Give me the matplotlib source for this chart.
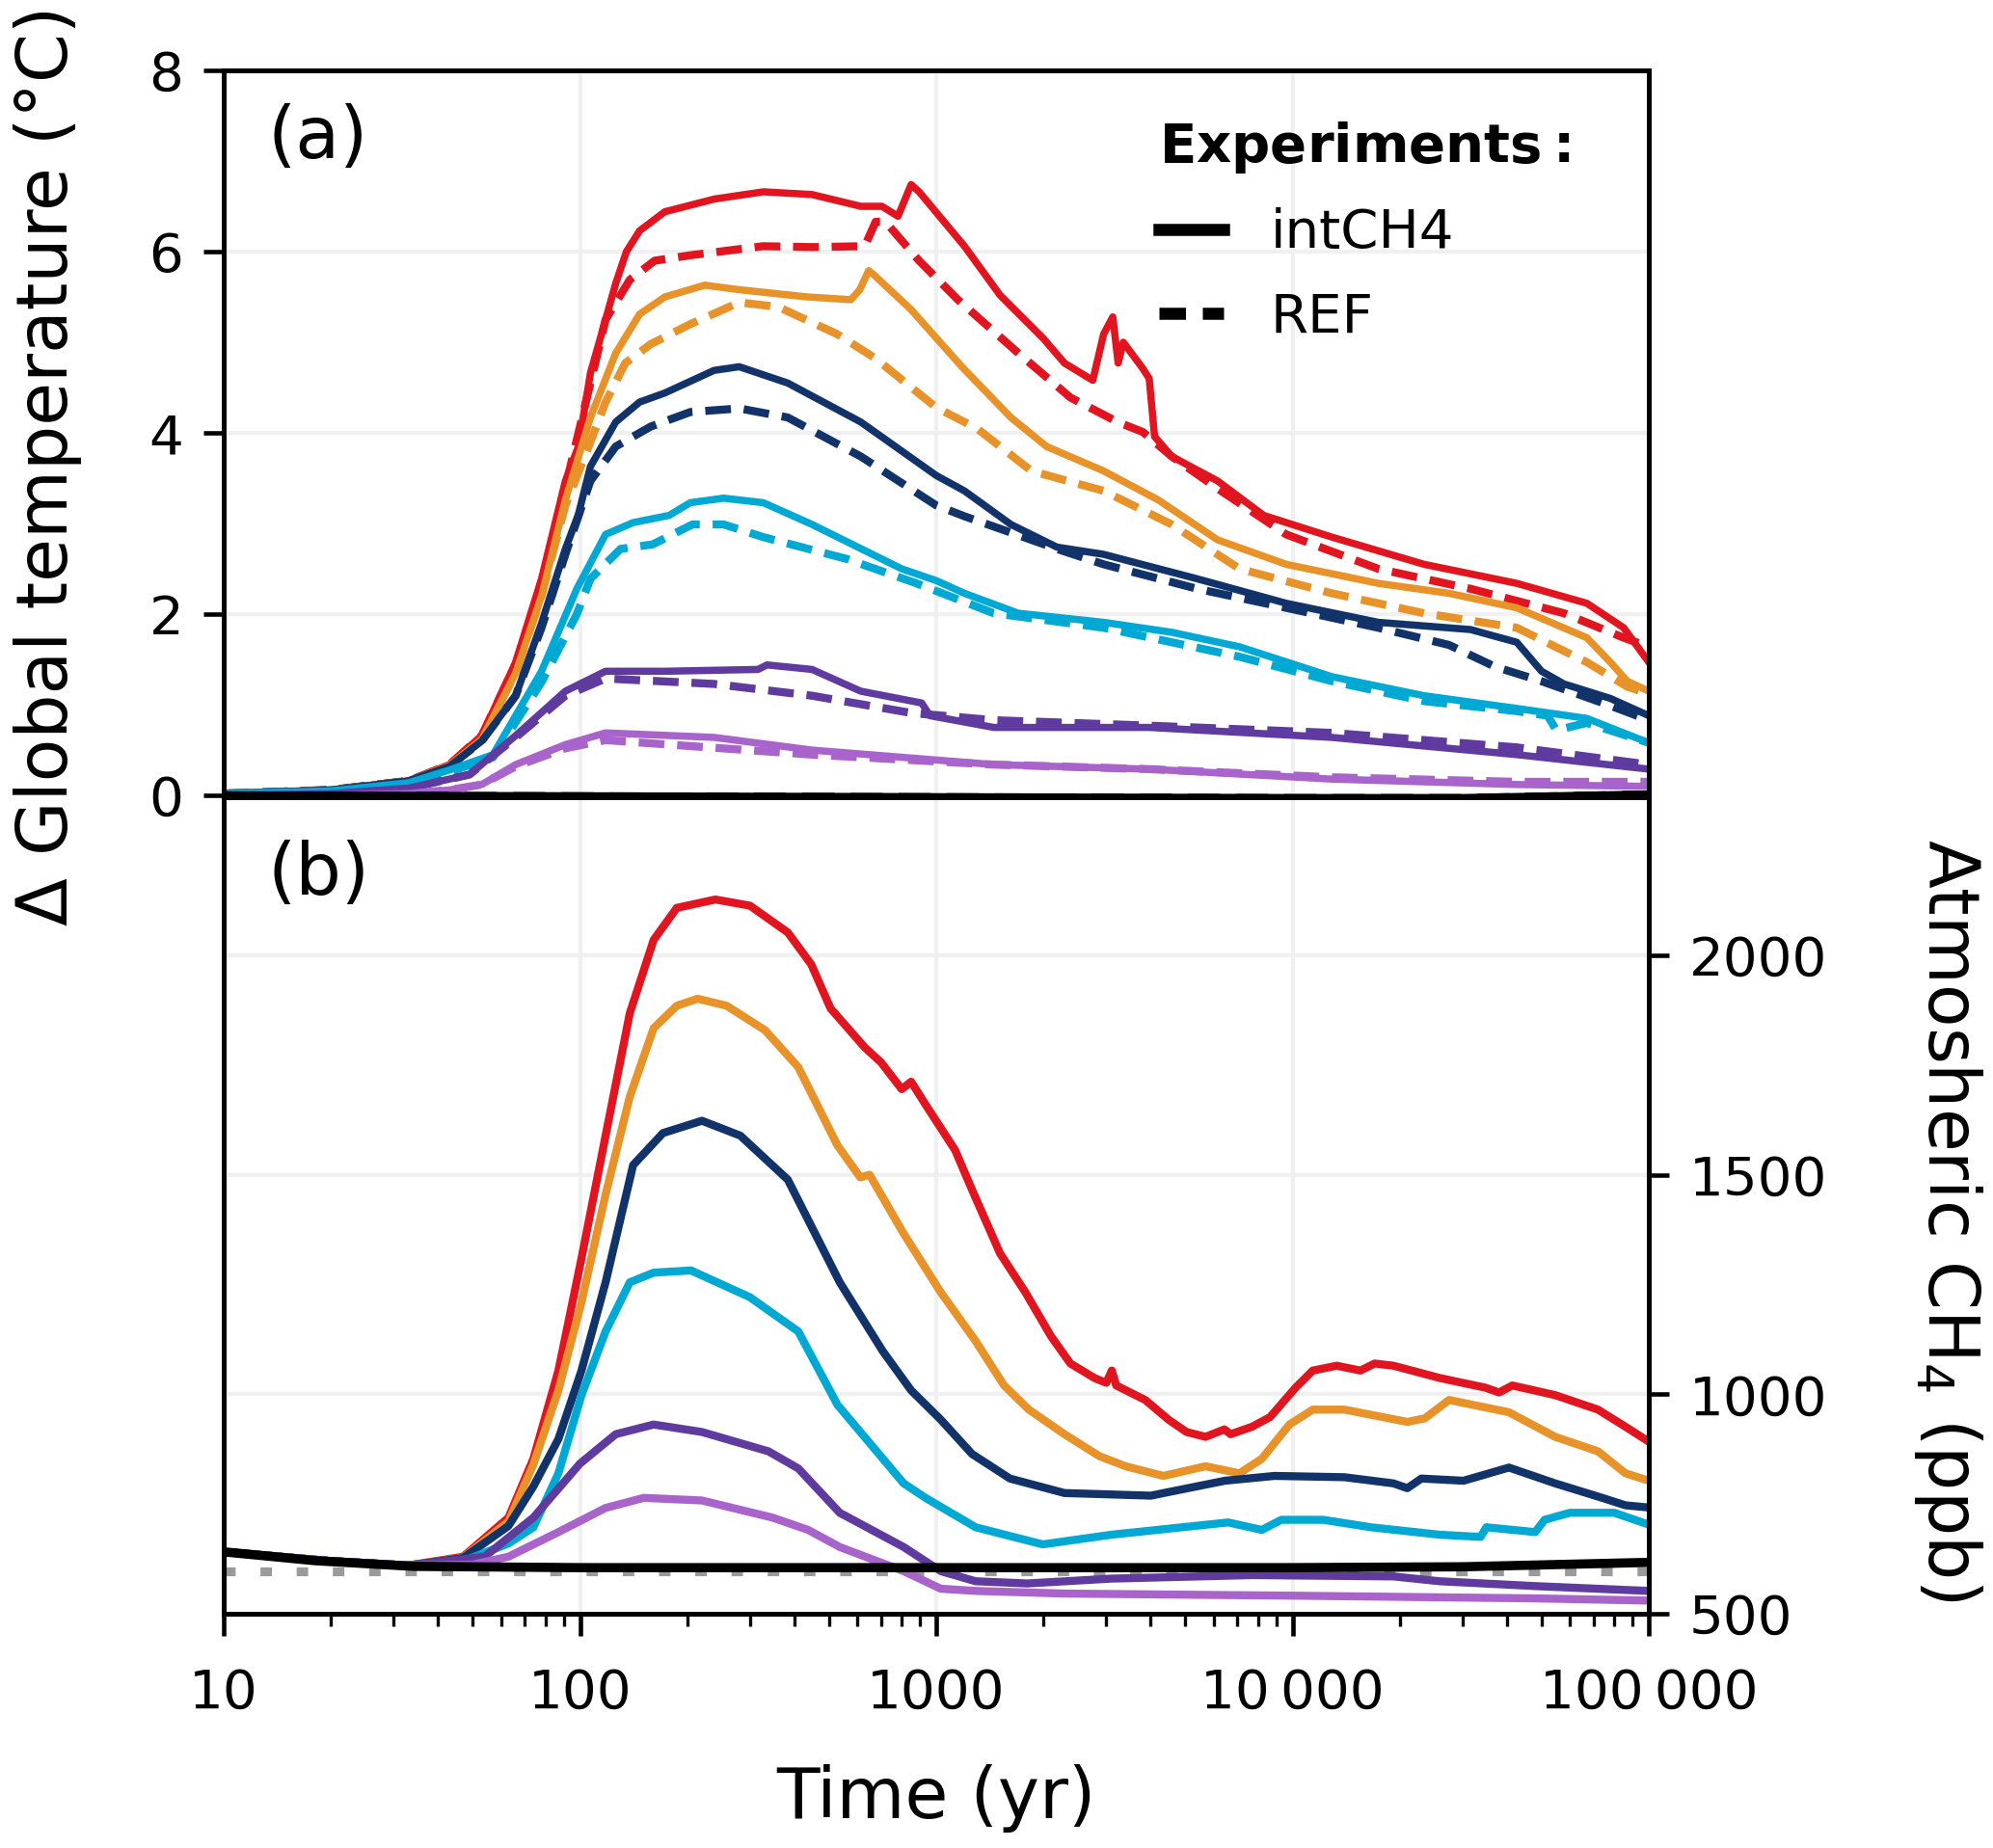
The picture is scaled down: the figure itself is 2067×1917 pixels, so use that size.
import matplotlib
matplotlib.use("Agg")
import matplotlib.pyplot as plt
from matplotlib.lines import Line2D
from matplotlib.ticker import FixedLocator, LogLocator, FuncFormatter, NullFormatter

# ==========================
# Colours of the experiments
# ==========================
c_red = "#e0151f"
c_orange = "#e8922a"
c_navy = "#12336a"
c_cyan = "#00a9d4"
c_purple = "#5f3a9f"
c_lilac = "#a864cb"

# ==========================
# Panel (a): temperature (degC)
# ==========================
t_red_a = [10, 20, 33, 43, 53, 66, 78, 91, 99, 107, 118, 126, 135, 147, 173, 238, 327, 448, 614, 704, 781, 850, 895,
           1200, 1510, 2000, 2290, 2750, 2950, 3130, 3240, 3350, 3800, 3960, 4100, 4580, 6160, 8300,
           12900, 23400, 42600, 67000, 85000, 100000]
T_red_a = [0.02, 0.06, 0.16, 0.34, 0.66, 1.47, 2.39, 3.47, 3.85, 4.66, 5.25, 5.65, 6.0, 6.23, 6.44, 6.58, 6.66, 6.63, 6.50, 6.50, 6.39, 6.74, 6.66,
           6.06, 5.52, 5.04, 4.77, 4.58, 5.09, 5.28, 4.77, 5.0, 4.71, 4.6, 3.96, 3.74, 3.47, 3.09,
           2.85, 2.55, 2.34, 2.12, 1.85, 1.47]
t_red_a_ref = [10, 20, 33, 43, 53, 66, 78, 91, 107, 118, 138, 162, 204, 327, 448, 630, 676, 720, 895, 1150,
               1700, 2380, 3230, 3800, 4580, 6300, 9600, 17400, 31600, 57800, 85000, 100000]
T_red_a_ref = [0.02, 0.06, 0.16, 0.34, 0.66, 1.45, 2.35, 3.4, 4.55, 5.25, 5.69, 5.9, 5.96, 6.06, 6.05, 6.06, 6.33, 6.33, 5.9, 5.47,
               4.88, 4.39, 4.12, 4.01, 3.74, 3.36, 2.88, 2.50, 2.28, 2.01, 1.74, 1.64]

t_orange_a = [10, 20, 33, 43, 53, 66, 78, 91, 107, 126, 147, 173, 224, 280, 435, 576, 610, 646, 670, 850,
              1180, 1620, 2040, 2950, 4200, 6160, 9600, 17400, 27500, 42600, 67000, 78000, 87000, 100000]
T_orange_a = [0.02, 0.06, 0.16, 0.33, 0.62, 1.35, 2.2, 3.26, 4.17, 4.88, 5.31, 5.50, 5.63, 5.58, 5.5, 5.47, 5.58, 5.79, 5.74, 5.36,
              4.73, 4.17, 3.85, 3.58, 3.26, 2.82, 2.55, 2.34, 2.23, 2.07, 1.74, 1.47, 1.26, 1.15]
t_orange_a_ref = [10, 20, 33, 43, 53, 66, 78, 91, 107, 118, 134, 158, 204, 280, 360, 527, 676, 1000, 1300,
                  1850, 2950, 4580, 7100, 12900, 23400, 42600, 67000, 87000, 100000]
T_orange_a_ref = [0.02, 0.06, 0.16, 0.33, 0.62, 1.35, 2.2, 3.2, 3.9, 4.34, 4.77, 4.98, 5.2, 5.44, 5.39, 5.09, 4.82, 4.28, 4.05,
                  3.58, 3.36, 2.99, 2.5, 2.23, 2.01, 1.85, 1.47, 1.2, 1.12]

t_navy_a = [10, 20, 33, 43, 53, 66, 78, 91, 99, 107, 126, 147, 173, 238, 280, 383, 614, 1000, 1200,
            1620, 2180, 2950, 5400, 9600, 17400, 31600, 42600, 50000, 57800, 78000, 100000]
T_navy_a = [0.02, 0.06, 0.16, 0.32, 0.6, 1.1, 1.9, 2.72, 3.1, 3.63, 4.12, 4.34, 4.44, 4.69, 4.73, 4.55, 4.12, 3.53, 3.36,
            2.99, 2.74, 2.66, 2.39, 2.12, 1.91, 1.83, 1.69, 1.37, 1.23, 1.07, 0.88]
t_navy_a_ref = [10, 20, 33, 43, 53, 66, 78, 91, 107, 126, 158, 204, 280, 383, 614, 1000, 1200,
                1620, 2180, 2950, 5400, 9600, 17400, 27500, 37000, 50000, 78000, 100000]
T_navy_a_ref = [0.02, 0.06, 0.16, 0.32, 0.6, 1.1, 1.85, 2.66, 3.47, 3.85, 4.07, 4.23, 4.27, 4.17, 3.74, 3.2, 3.08,
                2.9, 2.72, 2.55, 2.28, 2.07, 1.85, 1.66, 1.42, 1.26, 0.99, 0.83]

t_cyan_a = [10, 20, 33, 43, 57, 78, 98, 118, 141, 178, 204, 253, 327, 448, 800, 1000, 1200,
            1700, 2950, 4580, 7100, 12900, 23400, 42600, 67000, 100000]
T_cyan_a = [0.02, 0.05, 0.14, 0.28, 0.45, 1.37, 2.28, 2.88, 3.01, 3.09, 3.23, 3.28, 3.23, 2.99, 2.5, 2.37, 2.23,
            2.01, 1.91, 1.8, 1.64, 1.31, 1.1, 0.96, 0.85, 0.58]
t_cyan_a_ref = [10, 20, 33, 43, 57, 78, 98, 107, 130, 160, 207, 253, 327, 560, 880, 1450,
                2950, 7100, 12900, 23400, 42600, 52000, 55000, 67000, 100000]
T_cyan_a_ref = [0.02, 0.05, 0.14, 0.26, 0.42, 1.25, 2.0, 2.39, 2.72, 2.77, 2.99, 2.99, 2.85, 2.61, 2.34, 2.01,
                1.85, 1.53, 1.26, 1.04, 0.93, 0.88, 0.72, 0.8, 0.58]

t_purple_a = [10, 20, 33, 49, 66, 91, 118, 173, 316, 335, 448, 614, 910, 960, 1450,
              3960, 12900, 42600, 100000]
T_purple_a = [0.0, 0.02, 0.08, 0.23, 0.66, 1.15, 1.37, 1.37, 1.39, 1.44, 1.39, 1.15, 1.02, 0.88, 0.75,
              0.75, 0.64, 0.45, 0.29]
t_purple_a_ref = [10, 20, 33, 49, 66, 91, 118, 238, 448, 850, 1450, 3960, 12900, 42600, 100000]
T_purple_a_ref = [0.0, 0.02, 0.08, 0.23, 0.64, 1.1, 1.29, 1.23, 1.1, 0.91, 0.83, 0.77, 0.69, 0.53, 0.34]

t_lilac_a = [10, 20, 33, 43, 53, 66, 91, 118, 238, 448, 1450, 3960, 12900, 42600, 100000]
T_lilac_a = [0.0, 0.0, 0.02, 0.06, 0.12, 0.34, 0.56, 0.69, 0.64, 0.5, 0.34, 0.29, 0.18, 0.12, 0.1]
t_lilac_a_ref = [10, 20, 33, 43, 53, 66, 91, 118, 448, 1450, 3960, 12900, 42600, 100000]
T_lilac_a_ref = [0.0, 0.0, 0.02, 0.06, 0.12, 0.32, 0.52, 0.61, 0.45, 0.34, 0.29, 0.2, 0.15, 0.15]

t_black_a = [10, 1000, 10000, 30000, 100000]
T_black_a = [-0.01, -0.03, -0.04, -0.04, 0.0]

# ==========================
# Panel (b): atmospheric CH4 (ppb)
# ==========================
t_red_b = [10, 20, 33, 47, 63, 74, 87, 101, 118, 138, 161, 187, 240, 300, 383, 446, 505, 630, 700, 800, 850,
           933, 1130, 1260, 1510, 1780, 2100, 2380, 2780, 3000, 3110, 3200, 3860, 4490, 5040, 5700, 6440,
           6700, 7700, 8650, 10200, 11400, 13300, 15500, 17000, 19200, 25900, 34800, 38000, 41400, 54600,
           72000, 86000, 100000]
ch4_red = [641, 620, 610, 630, 719, 853, 1054, 1310, 1589, 1868, 2035, 2108, 2127, 2113, 2052, 1979, 1879, 1790, 1756, 1695, 1712,
           1660, 1556, 1466, 1321, 1232, 1132, 1070, 1037, 1026, 1054, 1020, 987, 942, 914, 903, 920,
           909, 926, 948, 1015, 1054, 1065, 1054, 1070, 1065, 1037, 1015, 1004, 1020, 998,
           965, 926, 892]

t_orange_b = [10, 20, 33, 47, 63, 74, 87, 101, 118, 138, 161, 187, 214, 258, 331, 410, 528, 612, 650, 810,
              1030, 1290, 1550, 1820, 2290, 2870, 3400, 4340, 5700, 7100, 8200, 9800, 11400, 14000, 21000,
              23500, 27500, 40500, 54600, 72000, 86000, 100000]
ch4_orange = [641, 620, 610, 628, 710, 840, 1009, 1210, 1455, 1678, 1834, 1885, 1901, 1885, 1829, 1745, 1567, 1494, 1500, 1366,
              1232, 1121, 1020, 965, 909, 859, 836, 814, 836, 820, 853, 931, 965, 965, 937,
              945, 987, 959, 903, 870, 820, 803]

t_navy_b = [10, 20, 33, 47, 63, 74, 87, 101, 118, 141, 171, 220, 282, 383, 457, 536, 708, 850, 1030,
            1260, 1610, 2290, 4000, 6460, 8900, 14000, 19200, 21000, 23000, 30200, 40500, 54600, 74000,
            86000, 100000]
ch4_navy = [641, 620, 610, 627, 700, 790, 898, 1054, 1255, 1522, 1595, 1623, 1589, 1489, 1366, 1255, 1098, 1009, 942,
            864, 808, 775, 769, 803, 814, 811, 797, 786, 808, 803, 833, 797, 764,
            747, 742]

t_cyan_b = [10, 20, 33, 47, 63, 74, 87, 101, 118, 138, 161, 205, 300, 410, 528, 810, 933, 1290, 1990,
            3100, 4900, 6600, 8200, 9300, 12200, 16600, 25900, 33700, 35000, 48000, 51000, 60000, 80000,
            100000]
ch4_cyan = [641, 620, 610, 620, 660, 697, 820, 998, 1143, 1255, 1277, 1282, 1221, 1143, 976, 797, 764, 697, 658,
            680, 697, 708, 691, 714, 714, 697, 680, 675, 697, 686, 714, 730, 730,
            703]

t_purple_b = [10, 20, 33, 54, 74, 100, 126, 161, 220, 338, 410, 536, 810, 1030, 1290, 1800, 3100, 7700,
              19200, 25900, 48000, 100000]
ch4_purple = [641, 620, 610, 630, 719, 842, 909, 931, 914, 870, 831, 730, 652, 597, 574, 569, 580, 588,
              585, 574, 563, 552]

t_lilac_b = [10, 20, 33, 50, 63, 87, 118, 151, 220, 347, 437, 536, 810, 1030, 1290, 2290, 10500, 48000, 100000]
ch4_lilac = [641, 620, 610, 612, 630, 686, 741, 764, 758, 719, 691, 652, 597, 557, 552, 546, 541, 535, 530]

t_black_b = [10, 18, 34, 100, 1000, 10000, 30000, 100000]
ch4_black = [641, 621, 608, 605, 605, 605, 607, 617]

t_gray_b = [10, 100000]
ch4_gray = [596, 596]

x_ticks = [10, 100, 1000, 10000, 100000]


def year_label(v, pos):
    s = str(int(round(v)))
    if len(s) > 4:
        s = s[:-3] + "\u2009" + s[-3:]
    return s


# ==========================
# Figure
# ==========================
plt.rcParams['font.family'] = ['DejaVu Sans']
fig = plt.figure(figsize=(2067 / 300, 1917 / 300), dpi=300)
ax1 = fig.add_axes([0.11224, 0.56860, 0.71505, 0.39332])
ax2 = fig.add_axes([0.11224, 0.12676, 0.71505, 0.44184], sharex=ax1)

lw = 2.0
dash = (0, (3.2, 1.6))
sol_a = [(t_red_a, T_red_a, c_red), (t_orange_a, T_orange_a, c_orange), (t_navy_a, T_navy_a, c_navy),
         (t_cyan_a, T_cyan_a, c_cyan), (t_purple_a, T_purple_a, c_purple), (t_lilac_a, T_lilac_a, c_lilac)]
ref_a = [(t_red_a_ref, T_red_a_ref, c_red), (t_orange_a_ref, T_orange_a_ref, c_orange),
         (t_navy_a_ref, T_navy_a_ref, c_navy), (t_cyan_a_ref, T_cyan_a_ref, c_cyan),
         (t_purple_a_ref, T_purple_a_ref, c_purple), (t_lilac_a_ref, T_lilac_a_ref, c_lilac)]
for t, v, c in ref_a:
    ax1.plot(t, v, color=c, lw=lw, ls=dash)
for t, v, c in sol_a:
    ax1.plot(t, v, color=c, lw=1.8)
ax1.plot(t_black_a, T_black_a, color="k", lw=2.5, ls=dash)
ax1.plot(t_black_a, T_black_a, color="k", lw=2.5)

sol_b = [(t_red_b, ch4_red, c_red), (t_orange_b, ch4_orange, c_orange), (t_navy_b, ch4_navy, c_navy),
         (t_cyan_b, ch4_cyan, c_cyan), (t_purple_b, ch4_purple, c_purple), (t_lilac_b, ch4_lilac, c_lilac)]
ax2.plot(t_gray_b, ch4_gray, color="#9a9a9a", lw=2.2, ls=(0, (1.3, 2.8)))
for t, v, c in sol_b:
    ax2.plot(t, v, color=c, lw=lw)
ax2.plot(t_black_b, ch4_black, color="k", lw=2.3)

# axes, ticks
ax1.set_xscale("log")
ax1.set_xlim(10, 100000)
ax1.set_ylim(-0.02, 8)
ax2.set_ylim(500, 2360)

for ax in (ax1, ax2):
    for s in ax.spines.values():
        s.set_linewidth(1.2)
    ax.grid(True, which="major", color="#f0f0f0", lw=1.0)
    ax.set_axisbelow(True)

ax1.set_yticks([0, 2, 4, 6, 8])
ax1.tick_params(axis="y", direction="out", length=5, width=1.1, labelsize=13.5, pad=5)
ax1.tick_params(axis="x", which="both", bottom=False, labelbottom=False)

ax2.xaxis.set_major_locator(FixedLocator(x_ticks))
ax2.xaxis.set_minor_locator(LogLocator(base=10, subs=range(2, 10), numticks=20))
ax2.xaxis.set_minor_formatter(NullFormatter())
ax2.xaxis.set_major_formatter(FuncFormatter(year_label))
ax2.tick_params(axis="x", which="major", direction="out", length=5.5, width=1.1, labelsize=13.5, pad=8)
ax2.tick_params(axis="x", which="minor", direction="out", length=3, width=0.8)
ax2.yaxis.tick_right()
ax2.yaxis.set_label_position("right")
ax2.set_yticks([500, 1000, 1500, 2000])
ax2.tick_params(axis="y", direction="out", length=5, width=1.1, labelsize=13.5, pad=5)

ax1.set_ylabel("Δ Global temperature (°C)", fontsize=17.5)
ax1.yaxis.set_label_coords(-0.0995, 0.457)
ax2.set_ylabel("Atmosheric CH$_4$ (ppb)", fontsize=17.5, rotation=270, va="center")
ax2.yaxis.set_label_coords(1.21, 0.482)
ax2.set_xlabel("Time (yr)", fontsize=17.5)
ax2.xaxis.set_label_coords(0.5, -0.184)

ax1.text(0.031, 0.955, "(a)", transform=ax1.transAxes, fontsize=18, va="top", ha="left")
ax2.text(0.031, 0.948, "(b)", transform=ax2.transAxes, fontsize=18, va="top", ha="left")

handles = [Line2D([], [], color="k", lw=3), Line2D([], [], color="k", lw=3, ls=(0, (2.2, 1.4)))]
leg = ax1.legend(handles, ["intCH4", "REF"], title=r"$\bf{Experiments:}$", loc="upper left",
                 bbox_to_anchor=(0.622, 1.0), frameon=False, fontsize=13.5, title_fontsize=13.5,
                 handlelength=1.2, handletextpad=0.85, labelspacing=0.6, alignment="left")

fig.savefig("out.png", dpi=300)
